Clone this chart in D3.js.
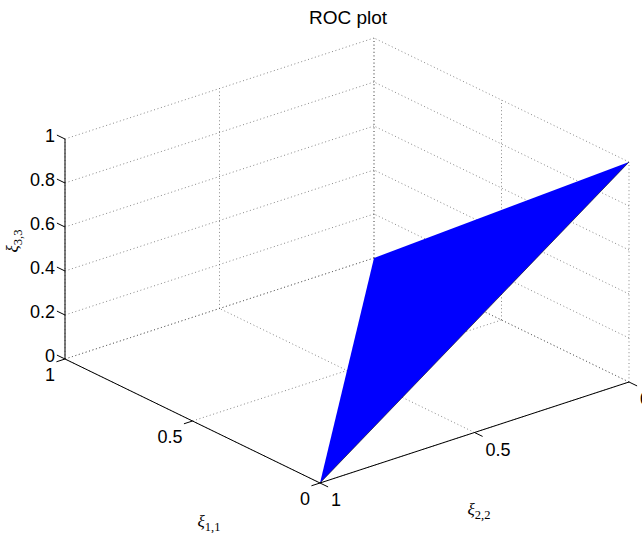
<!DOCTYPE html>
<html>
<head>
<meta charset="utf-8">
<script src="https://cdn.jsdelivr.net/npm/d3@7"></script>
<style>
  html, body { margin: 0; padding: 0; background: #fff; }
  svg { display: block; }
</style>
</head>
<body>
<div id="chart"></div>
<script>
// ---- data ----
const chartTitle = "ROC plot";
const xTicks = [0, 0.5, 1];          // ξ1,1
const xTickLabels = ["0", "0.5", "1"];
const yTicks = [0, 0.5, 1];          // ξ2,2
const yTickLabels = ["0", "0.5", "1"];
const zTicks = [0, 0.2, 0.4, 0.6, 0.8, 1]; // ξ3,3
const zTickLabels = ["0", "0.2", "0.4", "0.6", "0.8", "1"];
// triangle surface vertices (ξ1,1 , ξ2,2 , ξ3,3)
const surfX = [0, 1, 0];
const surfY = [1, 0, 0];
const surfZ = [0, 0, 1];

// ---- layout ----
const W = 642, H = 533;
const svg = d3.select("#chart").append("svg").attr("width", W).attr("height", H);
svg.append("rect").attr("width", W).attr("height", H).attr("fill", "#fff");

// projection built from linear scales: each data axis contributes a screen offset
const ox = 629, oy = 382;
const xSx = d3.scaleLinear().domain([0, 1]).range([0, -255]);
const xSy = d3.scaleLinear().domain([0, 1]).range([0, -124]);
const ySx = d3.scaleLinear().domain([0, 1]).range([0, -309]);
const ySy = d3.scaleLinear().domain([0, 1]).range([0, 101]);
const zSy = d3.scaleLinear().domain([0, 1]).range([0, -220]);
function P(x, y, z) {
  return [ox + xSx(x) + ySx(y), oy + xSy(x) + ySy(y) + zSy(z)];
}
function unit(v) { const l = Math.hypot(v[0], v[1]); return [v[0] / l, v[1] / l]; }
const exU = unit([xSx(1) - xSx(0), xSy(1) - xSy(0)]);
const eyU = unit([ySx(1) - ySx(0), ySy(1) - ySy(0)]);

const line = d3.line();
const gGrid = svg.append("g");
const gridSegs = [];
// floor
xTicks.forEach(x => gridSegs.push([P(x, 0, 0), P(x, 1, 0)]));
yTicks.forEach(y => gridSegs.push([P(0, y, 0), P(1, y, 0)]));
// wall x=1
zTicks.forEach(z => gridSegs.push([P(1, 0, z), P(1, 1, z)]));
yTicks.forEach(y => gridSegs.push([P(1, y, 0), P(1, y, 1)]));
// wall y=0
zTicks.forEach(z => gridSegs.push([P(0, 0, z), P(1, 0, z)]));
xTicks.forEach(x => gridSegs.push([P(x, 0, 0), P(x, 0, 1)]));
gGrid.selectAll("path").data(gridSegs).join("path")
  .attr("d", d => line(d))
  .attr("fill", "none")
  .attr("stroke", "#555")
  .attr("stroke-width", 0.7)
  .attr("stroke-dasharray", "1,2.6");

// surface
const tri = surfX.map((x, i) => P(x, surfY[i], surfZ[i]));
svg.append("path").attr("d", line(tri) + "Z")
  .attr("fill", "#0000ff").attr("stroke", "none");
svg.append("path").attr("d", line([tri[0], tri[2]]))
  .attr("stroke", "#000").attr("stroke-width", 0.6).attr("fill", "none");

// axes
const gAx = svg.append("g").attr("stroke", "#000").attr("stroke-width", 1).attr("fill", "none");
gAx.append("path").attr("d", line([P(0, 1, 0), P(1, 1, 0)]));
gAx.append("path").attr("d", line([P(0, 1, 0), P(0, 0, 0)]));
gAx.append("path").attr("d", line([P(1, 1, 0), P(1, 1, 1)]));
const tl = 9;
xTicks.forEach(x => { const p = P(x, 1, 0); gAx.append("path").attr("d", line([p, [p[0] + eyU[0] * tl, p[1] + eyU[1] * tl]])); });
yTicks.forEach(y => { const p = P(0, y, 0); gAx.append("path").attr("d", line([p, [p[0] - exU[0] * tl, p[1] - exU[1] * tl]])); });
zTicks.forEach(z => { const p = P(1, 1, z); gAx.append("path").attr("d", line([p, [p[0] + exU[0] * tl, p[1] + exU[1] * tl]])); });

// tick labels
const font = "'Liberation Sans', Arial, Helvetica, sans-serif";
const gT = svg.append("g").attr("font-family", font).attr("font-size", 18).attr("fill", "#000");
zTicks.forEach((z, i) => {
  const p = P(1, 1, z);
  gT.append("text").attr("x", p[0] - 10).attr("y", p[1] - 3)
    .attr("text-anchor", "end").attr("dominant-baseline", "central").text(zTickLabels[i]);
});
xTicks.forEach((x, i) => {
  const p = P(x, 1, 0);
  gT.append("text").attr("x", p[0] - 10).attr("y", p[1] + 15.5)
    .attr("text-anchor", "end").attr("dominant-baseline", "central").text(xTickLabels[i]);
});
yTicks.forEach((y, i) => {
  const p = P(0, y, 0);
  gT.append("text").attr("x", p[0] + 11).attr("y", p[1] + 17)
    .attr("text-anchor", "start").attr("dominant-baseline", "central").text(yTickLabels[i]);
});

// title
svg.append("text").attr("x", 348).attr("y", 24).attr("text-anchor", "middle")
  .attr("font-family", font).attr("font-size", 19).text(chartTitle);

// axis labels (xi with subscripts)
function xiLabel(g, sub) {
  const t = g.append("text").attr("font-family", "'Liberation Serif', 'DejaVu Serif', serif")
    .attr("text-anchor", "middle").attr("dominant-baseline", "alphabetic");
  t.append("tspan").attr("font-style", "italic").attr("font-size", 17).text("ξ");
  t.append("tspan").attr("font-size", 12.5).attr("dy", 4).text(sub);
  return t;
}
xiLabel(svg.append("g").attr("transform", "translate(209,527)"), "1,1");
xiLabel(svg.append("g").attr("transform", "translate(479,515)"), "2,2");
xiLabel(svg.append("g").attr("transform", "translate(18,241) rotate(-90)"), "3,3");
</script>
</body>
